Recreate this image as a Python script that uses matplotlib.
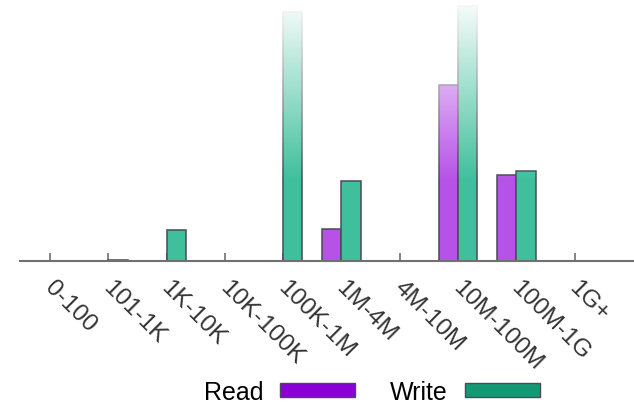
import matplotlib
matplotlib.use("Agg")
import matplotlib.pyplot as plt
import matplotlib.transforms as mtransforms
from matplotlib.patches import Patch
import numpy as np

plt.rcParams["font.family"] = ["Liberation Sans", "DejaVu Sans"]

# size buckets and share of I/O per bucket (arbitrary units)
buckets = ["0-100", "101-1K", "1K-10K", "10K-100K", "100K-1M",
           "1M-4M", "4M-10M", "10M-100M", "100M-1G", "1G+"]
read_vals = [0, 0, 0, 0, 0, 32, 0, 176, 86, 0]
write_vals = [0, 1, 31, 0, 249, 80, 0, 255, 90, 0]

read_col = "#b752e8"
write_col = "#3fbf9c"
edge_col = "#4a4a58"

fig = plt.figure(figsize=(6.34, 4.06), dpi=100)
ax = fig.add_axes([20 / 634, 144 / 406, 614 / 634, 262 / 406])

x = np.arange(len(buckets))
w = 0.33
ax.bar(x - w / 2, read_vals, w, color=read_col, edgecolor=edge_col, lw=1.1, zorder=2)
ax.bar(x + w / 2, write_vals, w, color=write_col, edgecolor=edge_col, lw=1.1, zorder=2)

x0, x1 = -0.515, 10.02
ax.set_xlim(x0, x1)
ax.set_ylim(0, 262)

# white wash that fades the tall bars toward the top
yy = np.linspace(262, 0, 300)
alpha = np.clip((yy - 80) / 175, 0, 1) * 0.95
img = np.ones((len(yy), 2, 4))
img[:, :, 3] = alpha[:, None]
ax.imshow(img, extent=[x0, x1, 0, 262], aspect="auto", zorder=3,
          interpolation="bilinear")

for s in ["top", "right", "left"]:
    ax.spines[s].set_visible(False)
ax.spines["bottom"].set_color("#707070")
ax.spines["bottom"].set_linewidth(1.5)
ax.spines["bottom"].set_zorder(4)
ax.set_yticks([])
ax.set_xticks(x)
ax.set_xticklabels(buckets, rotation=-45, ha="left", va="top",
                   rotation_mode="anchor", fontsize=17.5, color="#333333")
ax.tick_params(axis="x", direction="in", length=6, width=1.2, color="#707070", pad=11)
shift = mtransforms.ScaledTranslation(6 / 100, 0, fig.dpi_scale_trans)
for lab in ax.get_xticklabels():
    lab.set_transform(lab.get_transform() + shift)

handles = [Patch(facecolor="#8a00d6", edgecolor=edge_col, lw=1.0),
           Patch(facecolor="#139a74", edgecolor=edge_col, lw=1.0)]
fig.legend(handles, ["Read", "Write"], loc="center", bbox_to_anchor=(372 / 634, 1 - 393 / 406),
           ncol=2, frameon=False, markerfirst=False, fontsize=18,
           handlelength=3.0, handleheight=0.5, columnspacing=1.4, handletextpad=0.68,
           borderpad=0, borderaxespad=0)

fig.savefig("out.png", dpi=100)
